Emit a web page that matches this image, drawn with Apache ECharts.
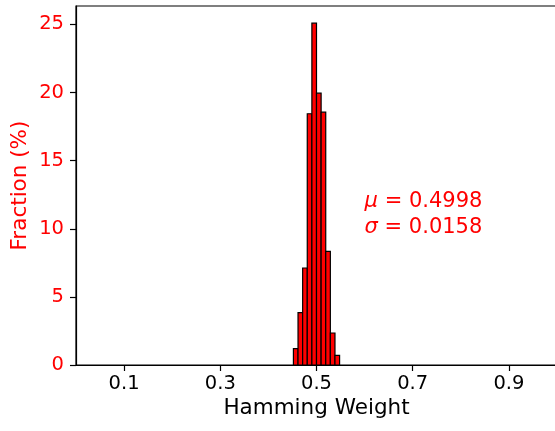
<!DOCTYPE html>
<html>
<head>
<meta charset="utf-8">
<script src="https://cdn.jsdelivr.net/npm/echarts@6/dist/echarts.min.js"></script>
<style>
html,body{margin:0;padding:0;background:#fff;}
#chart{width:555px;height:431px;}
</style>
</head>
<body>
<div id="chart"></div>
<script>
// ---- data ----
const binEdges = [0.452, 0.4616, 0.4712, 0.4808, 0.4904, 0.5, 0.5096, 0.5192, 0.5288, 0.5384, 0.548];
const fraction = [1.20, 3.84, 7.12, 18.44, 25.09, 19.95, 18.56, 8.34, 2.35, 0.70];
const xTickValues = [0.1, 0.3, 0.5, 0.7, 0.9];
const yTickValues = [0, 5, 10, 15, 20, 25];
const statLines = [
  { sym: 'μ', val: '0.4998', y: 12.0 },
  { sym: 'σ', val: '0.0158', y: 10.1 }
];
const annotX = 0.6;

const histData = fraction.map((v, i) => [binEdges[i], binEdges[i + 1], v]);
const FONT = 'DejaVu Sans';

const chart = echarts.init(document.getElementById('chart'), null, { renderer: 'canvas' });
const option = {
  animation: false,
  backgroundColor: '#ffffff',
  grid: {
    left: 76, top: 6, width: 481, height: 359,
    outerBoundsMode: 'none', containLabel: false,
    show: true, borderColor: '#000', borderWidth: 1.2, backgroundColor: 'transparent'
  },
  xAxis: {
    type: 'value', min: 0, max: 1,
    name: 'Hamming Weight', nameLocation: 'middle', nameGap: 32, nameMoveOverlap: false,
    nameTextStyle: { color: '#000', fontFamily: FONT, fontSize: 21.5 },
    axisLine: { show: true, onZero: false, lineStyle: { color: '#000', width: 1.2 } },
    axisTick: { show: true, length: 6, lineStyle: { color: '#000', width: 1.2 }, customValues: xTickValues },
    axisLabel: { color: '#000', fontFamily: FONT, fontSize: 19.5, margin: 9, customValues: xTickValues,
      formatter: v => v.toFixed(1) },
    splitLine: { show: false }
  },
  yAxis: {
    type: 'value', min: 0, max: 26.35,
    name: 'Fraction (%)', nameLocation: 'middle', nameGap: 45, nameRotate: 90, nameMoveOverlap: false,
    nameTextStyle: { color: '#ff0000', fontFamily: FONT, fontSize: 21.5 },
    axisLine: { show: true, onZero: false, lineStyle: { color: '#000', width: 1.2 } },
    axisTick: { show: true, length: 6, lineStyle: { color: '#000', width: 1.2 }, customValues: yTickValues },
    axisLabel: { color: '#ff0000', fontFamily: FONT, fontSize: 19.5, margin: 12, customValues: yTickValues },
    splitLine: { show: false }
  },
  series: [{
    type: 'custom',
    data: histData,
    encode: { x: [0, 1], y: 2 },
    renderItem: function (params, api) {
      const x0 = api.value(0), x1 = api.value(1), v = api.value(2);
      const pTop = api.coord([x0, v]);
      const pBot = api.coord([x1, 0]);
      return {
        type: 'rect',
        shape: { x: pTop[0], y: pTop[1], width: pBot[0] - pTop[0], height: pBot[1] - pTop[1] },
        style: { fill: '#ff0000', stroke: '#000', lineWidth: 1.2 }
      };
    }
  }]
};
chart.setOption(option);

const graphics = statLines.map(s => {
  const p = chart.convertToPixel({ xAxisIndex: 0, yAxisIndex: 0 }, [annotX, s.y]);
  return {
    type: 'text', x: p[0], y: p[1],
    style: {
      text: '{i|' + s.sym + '} = ' + s.val,
      fill: '#ff0000', font: '21px "DejaVu Sans"',
      verticalAlign: 'middle', align: 'left',
      rich: { i: { fontStyle: 'italic', fontFamily: FONT, fontSize: 21, fill: '#ff0000', color: '#ff0000' } }
    }
  };
});
chart.setOption({ graphic: graphics });
</script>
</body>
</html>
